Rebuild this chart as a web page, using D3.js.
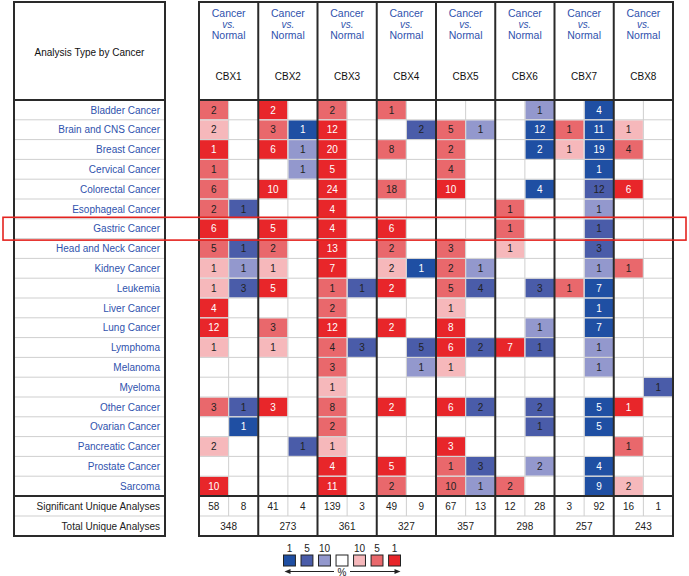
<!DOCTYPE html>
<html>
<head>
<meta charset="utf-8">
<script src="https://cdn.jsdelivr.net/npm/d3@7"></script>
<style>
  html, body { margin: 0; padding: 0; background: #fff; }
  svg { display: block; font-family: "Liberation Sans", Arial, Helvetica, sans-serif; }
</style>
</head>
<body>
<svg id="chart" width="689" height="576"></svg>
<script>
// ---------------- data ----------------
const cancers = ["Bladder Cancer","Brain and CNS Cancer","Breast Cancer","Cervical Cancer","Colorectal Cancer","Esophageal Cancer","Gastric Cancer","Head and Neck Cancer","Kidney Cancer","Leukemia","Liver Cancer","Lung Cancer","Lymphoma","Melanoma","Myeloma","Other Cancer","Ovarian Cancer","Pancreatic Cancer","Prostate Cancer","Sarcoma"];
const genes = ["CBX1","CBX2","CBX3","CBX4","CBX5","CBX6","CBX7","CBX8"];
const highlighted = "Gastric Cancer";

// "count/percentile" ; over-expression (red) and under-expression (blue)
const CBX1_up   = ["2/5","2/10","1/1","1/5","6/5","2/5","6/1","5/5","1/10","1/10","4/1","12/1","1/10","","","3/5","","2/10","","10/1"];
const CBX1_down = ["","","","","","1/5","","1/5","1/10","3/5","","","","","","1/5","1/1","","",""];
const CBX2_up   = ["2/1","3/5","6/1","","10/1","","5/1","2/5","1/10","5/1","","3/5","1/10","","","3/1","","","",""];
const CBX2_down = ["","1/1","1/10","1/10","","","","","","","","","","","","","","1/5","",""];
const CBX3_up   = ["2/5","12/1","20/1","5/1","24/1","4/1","4/1","13/1","7/1","1/5","2/5","12/1","4/5","3/5","1/10","8/5","2/5","1/10","4/1","11/1"];
const CBX3_down = ["","","","","","","","","","1/5","","","3/5","","","","","","",""];
const CBX4_up   = ["1/5","","8/5","","18/5","","6/1","2/5","2/10","2/1","","2/1","","","","2/1","","","5/1","2/5"];
const CBX4_down = ["","2/5","","","","","","","1/1","","","","5/5","1/10","","","","","",""];
const CBX5_up   = ["","5/5","2/5","4/5","10/1","","","3/5","2/5","5/5","1/10","8/1","6/1","1/10","","6/1","","3/1","1/5","10/5"];
const CBX5_down = ["","1/10","","","","","","","1/10","4/5","","","2/5","","","2/5","","","3/5","1/10"];
const CBX6_up   = ["","","","","","1/5","1/5","1/10","","","","","7/1","","","","","","","2/5"];
const CBX6_down = ["1/10","12/1","2/1","","4/1","","","","","3/5","","1/10","1/5","","","2/5","1/5","","2/10",""];
const CBX7_up   = ["","1/5","1/10","","","","","","","1/5","","","","","","","","","",""];
const CBX7_down = ["4/1","11/1","19/1","1/1","12/5","1/10","1/5","3/5","1/10","7/1","1/1","7/1","1/10","1/10","","5/1","5/1","","4/1","9/1"];
const CBX8_up   = ["","1/10","4/5","","6/1","","","","1/5","","","","","","","1/1","","1/5","","2/10"];
const CBX8_down = ["","","","","","","","","","","","","","","1/5","","","","",""];

const sigUp   = [58, 41, 139, 49, 67, 12, 3, 16];
const sigDown = [8, 4, 3, 9, 13, 28, 92, 1];
const totals  = [348, 273, 361, 327, 357, 298, 257, 243];
const legendBlue = [1, 5, 10];
const legendRed  = [10, 5, 1];

const upData   = [CBX1_up, CBX2_up, CBX3_up, CBX4_up, CBX5_up, CBX6_up, CBX7_up, CBX8_up];
const downData = [CBX1_down, CBX2_down, CBX3_down, CBX4_down, CBX5_down, CBX6_down, CBX7_down, CBX8_down];

// ---------------- styles ----------------
const redCol  = {1: "#e8262a", 5: "#e9686c", 10: "#f6b8bb"};
const blueCol = {1: "#1f4fa3", 5: "#4a5ca9", 10: "#9398cd"};
const textOn  = {red: {1: "#fff", 5: "#222", 10: "#222"}, blue: {1: "#fff", 5: "#222", 10: "#222"}};
const labelBlue = "#2f52ad";
const lineDark = "#2a2a2a";
const gridCol = "#cfcfcf";
const FS = 10;

const svg = d3.select("#chart");

const headTop = 2, headBot = 100, rowsBot = 496, bottomEnd = 536;
const y = d3.scaleBand().domain(cancers).range([headBot, rowsBot]);
const x = d3.scaleBand().domain(genes).range([199, 673]);
const sub = d3.scaleBand().domain(["up", "down"]).range([0, x.bandwidth()]);
const bottomRows = d3.scaleBand().domain(["sig", "tot"]).range([rowsBot, bottomEnd]);
const leftX0 = 14, leftX1 = 165;

// cells
const cells = [];
genes.forEach((g, gi) => {
  cancers.forEach((c, ci) => {
    [["up", upData[gi][ci], "red"], ["down", downData[gi][ci], "blue"]].forEach(([side, s, kind]) => {
      if (s) {
        const [v, p] = s.split("/").map(Number);
        cells.push({gene: g, cancer: c, side, value: v, pct: p, kind});
      }
    });
  });
});

// white backgrounds
svg.append("rect").attr("x", leftX0).attr("y", headTop).attr("width", leftX1 - leftX0).attr("height", bottomEnd - headTop).attr("fill", "#fff");
svg.append("rect").attr("x", x.range()[0]).attr("y", headTop).attr("width", x.range()[1] - x.range()[0]).attr("height", bottomEnd - headTop).attr("fill", "#fff");

// colored cells
svg.append("g").selectAll("rect").data(cells).join("rect")
  .attr("x", d => x(d.gene) + sub(d.side) + 0.5)
  .attr("y", d => y(d.cancer) + 0.5)
  .attr("width", sub.bandwidth() - 1)
  .attr("height", y.bandwidth() - 1)
  .attr("fill", d => d.kind === "red" ? redCol[d.pct] : blueCol[d.pct]);

// grid lines (light)
const grid = svg.append("g").attr("stroke", gridCol).attr("stroke-width", 1);
cancers.slice(1).forEach(c => {
  grid.append("line").attr("x1", leftX0).attr("x2", leftX1).attr("y1", y(c)).attr("y2", y(c));
  grid.append("line").attr("x1", x.range()[0]).attr("x2", x.range()[1]).attr("y1", y(c)).attr("y2", y(c));
});
grid.append("line").attr("x1", leftX0).attr("x2", leftX1).attr("y1", bottomRows("tot")).attr("y2", bottomRows("tot"));
grid.append("line").attr("x1", x.range()[0]).attr("x2", x.range()[1]).attr("y1", bottomRows("tot")).attr("y2", bottomRows("tot"));
genes.forEach(g => {
  grid.append("line").attr("x1", x(g) + sub("down")).attr("x2", x(g) + sub("down"))
    .attr("y1", headBot).attr("y2", bottomRows("tot"));
});

// cell numbers
svg.append("g").selectAll("text").data(cells).join("text")
  .attr("x", d => x(d.gene) + sub(d.side) + sub.bandwidth() / 2)
  .attr("y", d => y(d.cancer) + y.bandwidth() / 2)
  .attr("dy", "0.36em")
  .attr("text-anchor", "middle")
  .attr("font-size", FS)
  .attr("fill", d => textOn[d.kind][d.pct])
  .text(d => d.value);

// dark frame lines
const frame = svg.append("g").attr("stroke", lineDark).attr("stroke-width", 2).attr("fill", "none");
frame.append("rect").attr("x", leftX0).attr("y", headTop).attr("width", leftX1 - leftX0).attr("height", bottomEnd - headTop);
frame.append("line").attr("x1", leftX0).attr("x2", leftX1).attr("y1", headBot).attr("y2", headBot);
frame.append("line").attr("x1", leftX0).attr("x2", leftX1).attr("y1", rowsBot).attr("y2", rowsBot);
frame.append("rect").attr("x", x.range()[0]).attr("y", headTop).attr("width", x.range()[1] - x.range()[0]).attr("height", bottomEnd - headTop);
frame.append("line").attr("x1", x.range()[0]).attr("x2", x.range()[1]).attr("y1", headBot).attr("y2", headBot);
frame.append("line").attr("x1", x.range()[0]).attr("x2", x.range()[1]).attr("y1", rowsBot).attr("y2", rowsBot);
genes.slice(1).forEach(g => {
  frame.append("line").attr("x1", x(g)).attr("x2", x(g)).attr("y1", headTop).attr("y2", bottomEnd);
});

// header texts
svg.append("text").attr("x", (leftX0 + leftX1) / 2).attr("y", 52).attr("dy", "0.35em")
  .attr("text-anchor", "middle").attr("font-size", FS).attr("fill", "#111")
  .text("Analysis Type by Cancer");

const hdr = svg.append("g").selectAll("g").data(genes).join("g")
  .attr("transform", g => `translate(${x(g) + x.bandwidth() / 2},0)`)
  .attr("text-anchor", "middle");
hdr.append("text").attr("y", 13).attr("dy", "0.35em").attr("font-size", 10.5).attr("fill", labelBlue).text("Cancer");
hdr.append("text").attr("y", 24).attr("dy", "0.35em").attr("font-size", 10).attr("font-style", "italic").attr("fill", labelBlue).text("vs.");
hdr.append("text").attr("y", 35).attr("dy", "0.35em").attr("font-size", 10.5).attr("fill", labelBlue).text("Normal");
hdr.append("text").attr("y", 76).attr("dy", "0.35em").attr("font-size", FS).attr("fill", "#111").text(g => g);

// row labels
svg.append("g").selectAll("text").data(cancers).join("text")
  .attr("x", leftX1 - 5)
  .attr("y", c => y(c) + y.bandwidth() / 2)
  .attr("dy", "0.36em")
  .attr("text-anchor", "end")
  .attr("font-size", FS)
  .attr("fill", labelBlue)
  .text(c => c);

// bottom row labels
svg.append("text").attr("x", leftX1 - 5).attr("y", bottomRows("sig") + bottomRows.bandwidth() / 2).attr("dy", "0.36em")
  .attr("text-anchor", "end").attr("font-size", FS).attr("fill", "#222").text("Significant Unique Analyses");
svg.append("text").attr("x", leftX1 - 5).attr("y", bottomRows("tot") + bottomRows.bandwidth() / 2).attr("dy", "0.36em")
  .attr("text-anchor", "end").attr("font-size", FS).attr("fill", "#222").text("Total Unique Analyses");

// bottom numbers
const bot = svg.append("g").attr("font-size", FS).attr("fill", "#222").attr("text-anchor", "middle");
genes.forEach((g, i) => {
  bot.append("text").attr("x", x(g) + sub("up") + sub.bandwidth() / 2).attr("y", bottomRows("sig") + bottomRows.bandwidth() / 2).attr("dy", "0.36em").text(sigUp[i]);
  bot.append("text").attr("x", x(g) + sub("down") + sub.bandwidth() / 2).attr("y", bottomRows("sig") + bottomRows.bandwidth() / 2).attr("dy", "0.36em").text(sigDown[i]);
  bot.append("text").attr("x", x(g) + x.bandwidth() / 2).attr("y", bottomRows("tot") + bottomRows.bandwidth() / 2).attr("dy", "0.36em").text(totals[i]);
});

// highlight box for the gastric row
svg.append("rect")
  .attr("x", 3).attr("y", y(highlighted) - 1.5)
  .attr("width", 683).attr("height", y.bandwidth() + 3)
  .attr("fill", "none").attr("stroke", "#e4231f").attr("stroke-width", 1.6);

// legend
const legendItems = [
  ...legendBlue.map(v => ({label: v, color: blueCol[v]})),
  {label: "", color: "#fff"},
  ...legendRed.map(v => ({label: v, color: redCol[v]}))
];
const lx = d3.scaleBand().domain(d3.range(legendItems.length)).range([283.5, 400.5]).paddingInner(0.32);
const lg = svg.append("g");
lg.selectAll("rect").data(legendItems).join("rect")
  .attr("x", (d, i) => lx(i)).attr("y", 555)
  .attr("width", lx.bandwidth()).attr("height", 11)
  .attr("fill", d => d.color).attr("stroke", "#222").attr("stroke-width", 1);
lg.selectAll("text").data(legendItems).join("text")
  .attr("x", (d, i) => lx(i) + lx.bandwidth() / 2).attr("y", 548).attr("dy", "0.35em")
  .attr("text-anchor", "middle").attr("font-size", FS).attr("fill", "#222")
  .text(d => d.label);
const cx = lx(3) + lx.bandwidth() / 2;
lg.append("text").attr("x", cx).attr("y", 572).attr("dy", "0.35em").attr("text-anchor", "middle").attr("font-size", 10).attr("fill", "#222").text("%");
lg.append("line").attr("x1", cx - 8).attr("x2", lx(0) + 6).attr("y1", 571.5).attr("y2", 571.5).attr("stroke", "#222").attr("stroke-width", 1.2);
lg.append("path").attr("d", `M${lx(0) + 1},571.5 l6,-2.5 l0,5 z`).attr("fill", "#222");
lg.append("line").attr("x1", cx + 8).attr("x2", lx(6) + lx.bandwidth() - 5).attr("y1", 571.5).attr("y2", 571.5).attr("stroke", "#222").attr("stroke-width", 1.2);
lg.append("path").attr("d", `M${lx(6) + lx.bandwidth()},571.5 l-6,-2.5 l0,5 z`).attr("fill", "#222");
</script>
</body>
</html>
